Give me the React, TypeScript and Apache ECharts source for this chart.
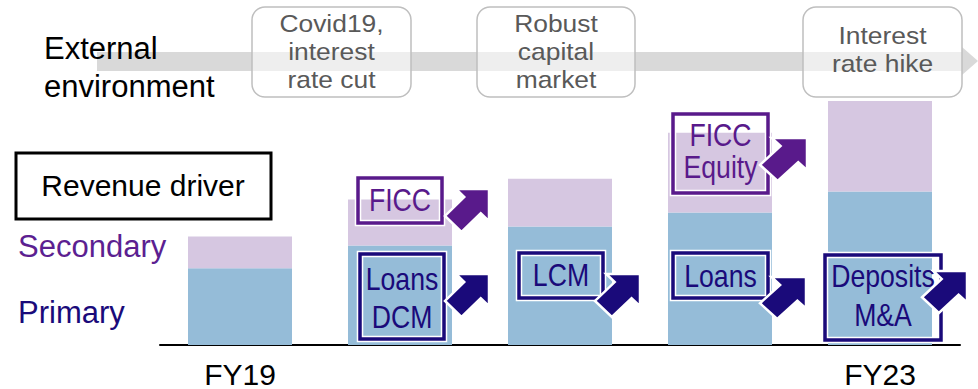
import React, { useEffect, useRef } from "react";
import * as echarts from "echarts";

const categories = ["FY19", "FY20", "FY21", "FY22", "FY23"];
const primaryValues = [77, 100, 119, 133, 154];
const secondaryValues = [32, 46, 48, 80, 91];
const shownLabels = ["FY19", "FY23"];

const FONT = "'Liberation Sans', Arial, sans-serif";
const NAVY = "#1a0a7a";
const PURPLE = "#591a8b";
const PRIMARY_BAR = "#95bcd8";
const SECONDARY_BAR = "#d6c7e1";

function arrowPts(x: number, y: number, w: number, h: number) {
  const p = [
    [1, 0],
    [1, 0.75],
    [0.8125, 0.5625],
    [0.375, 1],
    [0, 0.625],
    [0.4375, 0.1875],
    [0.25, 0],
  ];
  return p.map(([a, b]) => [x + a * w, y + b * h]);
}

function arrow(x: number, y: number, w: number, h: number, color: string) {
  return {
    type: "polygon",
    z: 120,
    shape: { points: arrowPts(x, y, w, h) },
    style: { fill: color, stroke: "#ffffff", lineWidth: 2.5 },
  };
}

function driverBox(
  x: number,
  y: number,
  w: number,
  h: number,
  text: string,
  color: string,
  textY: number,
  lineHeight: number
) {
  return [
    {
      type: "rect",
      z: 110,
      shape: { x, y, width: w, height: h },
      style: { fill: "none", stroke: "#ffffff", lineWidth: 6.5 },
    },
    {
      type: "rect",
      z: 111,
      shape: { x, y, width: w, height: h },
      style: { fill: "none", stroke: color, lineWidth: 3.5 },
    },
    {
      type: "text",
      z: 112,
      x: x + w / 2,
      y: textY,
      scaleX: 0.86,
      style: {
        text,
        x: 0,
        y: 0,
        fill: color,
        font: `31px ${FONT}`,
        textAlign: "center",
        textVerticalAlign: "middle",
        lineHeight,
      },
    },
  ];
}

function envBox(x: number, y: number, w: number, h: number, text: string, cy: number, lh: number) {
  return [
    {
      type: "rect",
      z: 105,
      shape: { x, y, width: w, height: h, r: 13 },
      style: { fill: "rgba(255,255,255,0.55)", stroke: "#bfbfbf", lineWidth: 1.5 },
    },
    {
      type: "text",
      z: 106,
      x: x + w / 2,
      y: cy,
      scaleX: 1.1,
      style: {
        text,
        x: 0,
        y: 0,
        fill: "#595959",
        font: `24px ${FONT}`,
        textAlign: "center",
        textVerticalAlign: "middle",
        lineHeight: lh,
      },
    },
  ];
}

export default function App() {
  const ref = useRef<HTMLDivElement>(null);

  useEffect(() => {
    if (!ref.current) return;
    const chart = echarts.init(ref.current, null, { renderer: "svg" });

    const graphic: any[] = [
      {
        type: "rect",
        z: 100,
        shape: { x: 97, y: 52, width: 866, height: 19 },
        style: { fill: "#d9d9d9" },
      },
      {
        type: "polygon",
        z: 100,
        shape: { points: [[962, 47], [978, 61], [962, 75]] },
        style: { fill: "#d9d9d9" },
      },
      {
        type: "text",
        z: 101,
        x: 44,
        y: 67,
        style: {
          text: "External\nenvironment",
          x: 0,
          y: 0,
          fill: "#000000",
          font: `31px ${FONT}`,
          textAlign: "left",
          textVerticalAlign: "middle",
          lineHeight: 38,
        },
      },
      ...envBox(252, 7, 159, 90, "Covid19,\ninterest\nrate cut", 51, 28),
      ...envBox(477, 7, 158, 90, "Robust\ncapital\nmarket", 51, 28),
      ...envBox(803, 7, 159, 90, "Interest\nrate hike", 49, 28),
      {
        type: "rect",
        z: 100,
        shape: { x: 16, y: 153, width: 255, height: 66 },
        style: { fill: "#ffffff", stroke: "#000000", lineWidth: 3 },
      },
      {
        type: "text",
        z: 101,
        x: 143,
        y: 185,
        style: {
          text: "Revenue driver",
          x: 0,
          y: 0,
          fill: "#000000",
          font: `30px ${FONT}`,
          textAlign: "center",
          textVerticalAlign: "middle",
        },
      },
      {
        type: "text",
        z: 101,
        x: 18,
        y: 246,
        style: {
          text: "Secondary",
          x: 0,
          y: 0,
          fill: "#5c1f91",
          font: `31px ${FONT}`,
          textAlign: "left",
          textVerticalAlign: "middle",
        },
      },
      {
        type: "text",
        z: 101,
        x: 18,
        y: 312,
        style: {
          text: "Primary",
          x: 0,
          y: 0,
          fill: NAVY,
          font: `31px ${FONT}`,
          textAlign: "left",
          textVerticalAlign: "middle",
        },
      },
      ...driverBox(358, 178, 84, 45, "FICC", PURPLE, 200, 38),
      arrow(445, 189, 44, 43, PURPLE),
      ...driverBox(360, 254, 84, 85, "Loans\nDCM", NAVY, 298, 38),
      arrow(445, 274, 44, 43, NAVY),
      ...driverBox(519, 253, 84, 45, "LCM", NAVY, 275, 38),
      arrow(595, 274, 45, 43, NAVY),
      ...driverBox(673, 114, 95, 79, "FICC\nEquity", PURPLE, 151, 32),
      arrow(760, 138, 47, 43, PURPLE),
      ...driverBox(673, 253, 95, 45, "Loans", NAVY, 276, 38),
      arrow(760, 277, 46, 42, NAVY),
      ...driverBox(825, 255, 116, 85, "Deposits\nM&A", NAVY, 296, 39),
      arrow(922, 271, 45, 42, NAVY),
    ];

    chart.setOption({
      animation: false,
      grid: { left: 160, right: 18, top: 96, bottom: 43, containLabel: false },
      xAxis: {
        type: "category",
        data: categories,
        axisLine: { show: true, lineStyle: { color: "#000000", width: 2 } },
        axisTick: { show: false },
        axisLabel: {
          interval: 0,
          margin: 14,
          color: "#000000",
          fontSize: 30,
          fontFamily: FONT,
          formatter: (v: string) => (shownLabels.includes(v) ? v : ""),
        },
      },
      yAxis: {
        type: "value",
        min: 0,
        max: 250,
        show: false,
        splitLine: { show: false },
      },
      series: [
        {
          name: "Primary",
          type: "bar",
          stack: "total",
          barWidth: 104,
          data: primaryValues,
          itemStyle: { color: PRIMARY_BAR },
        },
        {
          name: "Secondary",
          type: "bar",
          stack: "total",
          barWidth: 104,
          data: secondaryValues,
          itemStyle: { color: SECONDARY_BAR },
        },
      ],
      graphic,
    });

    return () => chart.dispose();
  }, []);

  return (
    <div
      ref={ref}
      style={{ position: "absolute", left: 0, top: 0, width: 978, height: 389, background: "#ffffff" }}
    />
  );
}
